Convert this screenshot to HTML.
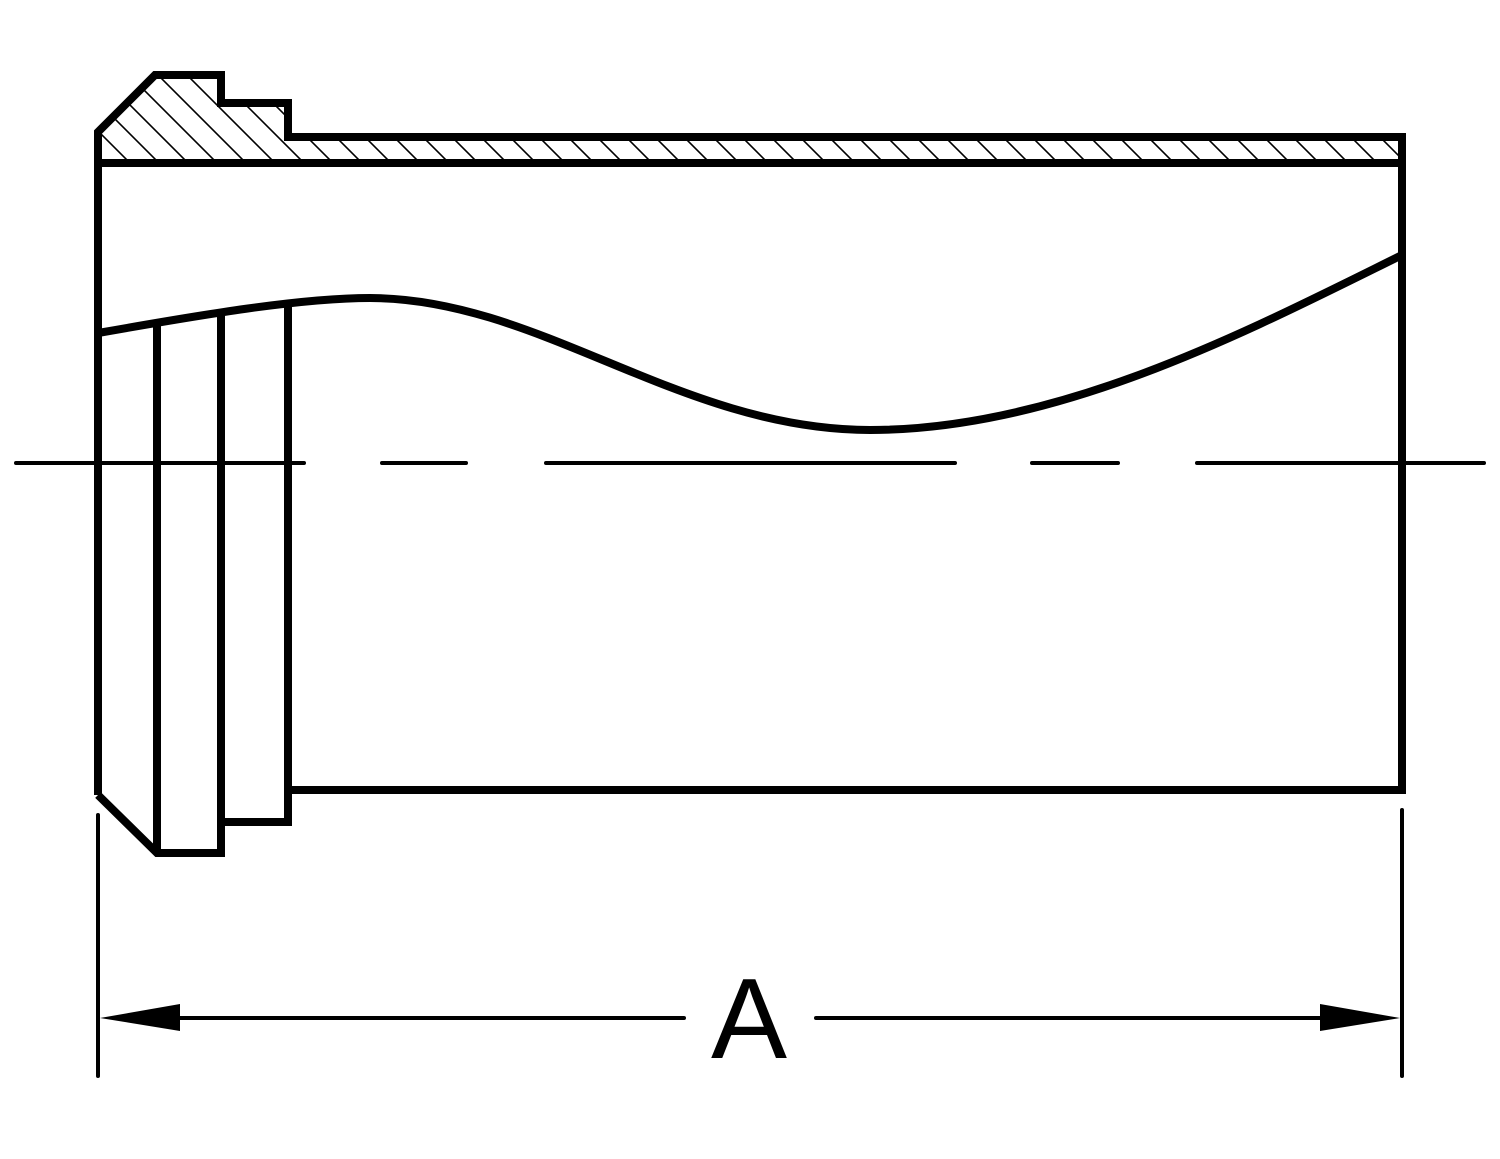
<!DOCTYPE html>
<html><head><meta charset="utf-8"><style>html,body{margin:0;padding:0;background:#fff}svg{display:block}</style></head>
<body>
<svg width="1500" height="1159" viewBox="0 0 1500 1159" xmlns="http://www.w3.org/2000/svg">
<defs>
<clipPath id="hc"><path d="M98,132 L155,75 L221,75 L221,103 L288,103 L288,137 L1402,137 L1402,163 L98,163 Z"/></clipPath>
</defs>
<g clip-path="url(#hc)">
<path fill="none" stroke="#000" stroke-width="1.6" d="M-60,60 l110,110 M-31,60 l110,110 M-2,60 l110,110 M27,60 l110,110 M56,60 l110,110 M85,60 l110,110 M114,60 l110,110 M143,60 l110,110 M172,60 l110,110 M201,60 l110,110 M230,60 l110,110 M259,60 l110,110 M288,60 l110,110 M317,60 l110,110 M346,60 l110,110 M375,60 l110,110 M404,60 l110,110 M433,60 l110,110 M462,60 l110,110 M491,60 l110,110 M520,60 l110,110 M549,60 l110,110 M578,60 l110,110 M607,60 l110,110 M636,60 l110,110 M665,60 l110,110 M694,60 l110,110 M723,60 l110,110 M752,60 l110,110 M781,60 l110,110 M810,60 l110,110 M839,60 l110,110 M868,60 l110,110 M897,60 l110,110 M926,60 l110,110 M955,60 l110,110 M984,60 l110,110 M1013,60 l110,110 M1042,60 l110,110 M1071,60 l110,110 M1100,60 l110,110 M1129,60 l110,110 M1158,60 l110,110 M1187,60 l110,110 M1216,60 l110,110 M1245,60 l110,110 M1274,60 l110,110 M1303,60 l110,110 M1332,60 l110,110 M1361,60 l110,110 M1390,60 l110,110"/>
</g>
<g fill="none" stroke="#000" stroke-width="8" stroke-linejoin="miter" stroke-linecap="butt">
<path d="M98,795 L98,132 L155,75 L221,75 L221,103 L288,103 L288,137 L1402,137 L1402,790 L288,790"/>
<line x1="98" y1="163" x2="1402" y2="163"/>
<path d="M98,795 L157,853 L221,853 L221,822 L288,822 L288,306"/>
<line x1="157" y1="853" x2="157" y2="324"/>
<line x1="221" y1="853" x2="221" y2="314"/>
<path d="M98,333 C200,315 300,298 370,298 C540,298 680,430 870,430 C1060,430 1250,330 1402,255"/>
</g>
<g stroke="#000" stroke-width="4" stroke-linecap="round">
<line x1="16" y1="463" x2="304" y2="463"/>
<line x1="382" y1="463" x2="466" y2="463"/>
<line x1="546" y1="463" x2="955" y2="463"/>
<line x1="1032" y1="463" x2="1118" y2="463"/>
<line x1="1197" y1="463" x2="1484" y2="463"/>
<line x1="98" y1="815" x2="98" y2="1076"/>
<line x1="1402" y1="810" x2="1402" y2="1076"/>
<line x1="180" y1="1018" x2="684" y2="1018"/>
<line x1="816" y1="1018" x2="1320" y2="1018"/>
</g>
<polygon points="100,1018 180,1004 180,1031" fill="#000"/>
<polygon points="1400,1018 1320,1004 1320,1031" fill="#000"/>
<text x="749" y="1058" font-family="Liberation Sans, sans-serif" font-size="114" text-anchor="middle" fill="#000">A</text>
</svg>
</body></html>
